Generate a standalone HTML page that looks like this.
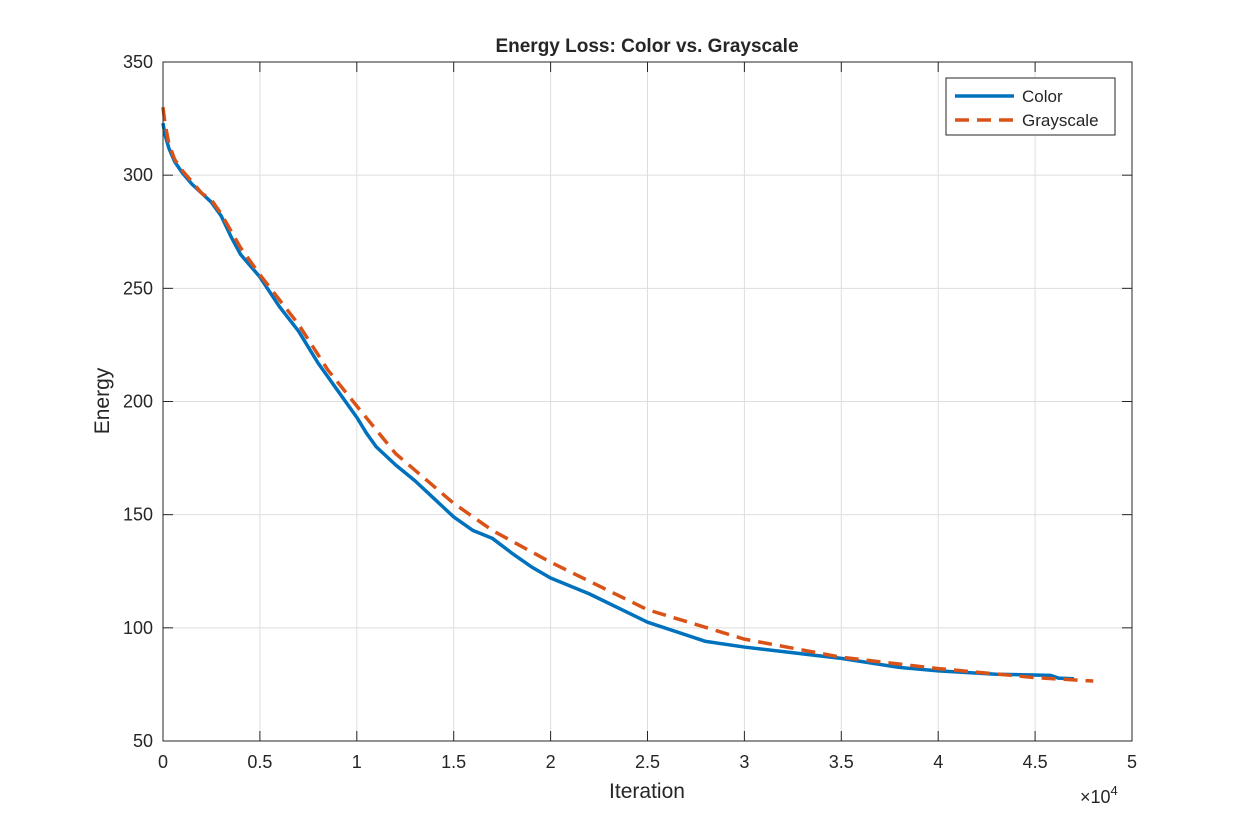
<!DOCTYPE html>
<html><head><meta charset="utf-8"><style>
body{margin:0;background:#fff;}
svg text{font-family:"Liberation Sans",Arial,sans-serif;fill:#262626;}
</style></head><body>
<svg id="chart" width="1250" height="833" xmlns="http://www.w3.org/2000/svg">
<rect x="0" y="0" width="1250" height="833" fill="#fff"/>
<g id="grid"></g>
<g id="plot"></g>
<rect x="163" y="62" width="969" height="679" fill="none" stroke="#262626" stroke-width="1"/>
<g id="ticks"></g>
<text x="647" y="52" text-anchor="middle" font-size="19" font-weight="bold" fill="#000">Energy Loss: Color vs. Grayscale</text>
<text x="647" y="798" text-anchor="middle" font-size="21">Iteration</text>
<text transform="translate(109,401) rotate(-90)" text-anchor="middle" font-size="21">Energy</text>
<text x="1080" y="803" font-size="18">×10<tspan font-size="13" dy="-8">4</tspan></text>
<g>
<rect x="946" y="78" width="169" height="57" fill="#fff" stroke="#262626" stroke-width="1"/>
<line x1="955" y1="96" x2="1014" y2="96" stroke="#0072BD" stroke-width="3.5"/>
<text x="1022" y="102" font-size="17">Color</text>
<line x1="955" y1="120" x2="1014" y2="120" stroke="#D95319" stroke-width="3.5" stroke-dasharray="14,8"/>
<text x="1022" y="126" font-size="17">Grayscale</text>
</g>
</svg>
<script>
const xTicks=[0,0.5,1,1.5,2,2.5,3,3.5,4,4.5,5];
const xTickLabels=["0","0.5","1","1.5","2","2.5","3","3.5","4","4.5","5"];
const yTicks=[50,100,150,200,250,300,350];
const colorX=[0,0.01,0.03,0.06,0.1,0.15,0.2,0.25,0.3,0.35,0.4,0.5,0.6,0.7,0.75,0.8,0.9,1.0,1.05,1.1,1.2,1.3,1.4,1.5,1.6,1.7,1.8,1.9,2.0,2.2,2.5,2.8,3.0,3.3,3.5,3.8,4.0,4.3,4.58,4.62,4.7];
const colorY=[323,318,312,306,301,296,292,288,282,273,265,255,242,231,224,217,205,193,186,180,172,165,157,149,143,139.5,133,127,122,115,102.5,94,91.5,88.5,86.5,82.5,81,79.5,79,77.8,77.5];
const grayX=[0,0.01,0.03,0.06,0.1,0.15,0.2,0.25,0.3,0.4,0.5,0.7,0.85,1.0,1.2,1.5,1.7,2.0,2.5,3.0,3.5,4.0,4.5,4.8];
const grayY=[330,323,314,307,302,297,292,289,283,268,256,234,214,198,177,155,143,129,108,95,87,82,78,76.5];
const sx=v=>163+v/5*969;
const sy=v=>741-(v-50)/300*679;
const NS="http://www.w3.org/2000/svg";
const grid=document.getElementById('grid'),ticks=document.getElementById('ticks'),plot=document.getElementById('plot');
function mk(tag,attrs,parent){const e=document.createElementNS(NS,tag);for(const k in attrs)e.setAttribute(k,attrs[k]);parent.appendChild(e);return e;}
xTicks.forEach((t,i)=>{const x=sx(t);
 const g=mk('line',{x1:x,y1:62,x2:x,y2:741,stroke:'#dedede','stroke-width':1},grid);
 
 
 const a=mk('line',{x1:x,y1:741,x2:x,y2:731,stroke:'#262626'},ticks);
 
 
 const b=mk('line',{x1:x,y1:62,x2:x,y2:72,stroke:'#262626'},ticks);
 
 
 const l=mk('text',{x:x,y:768,'text-anchor':'middle','font-size':18},ticks);l.textContent=xTickLabels[i];
 
 
});
yTicks.forEach(t=>{const y=sy(t);
 const g=mk('line',{x1:163,y1:y,x2:1132,y2:y,stroke:'#dedede','stroke-width':1},grid);
 
 
 const a=mk('line',{x1:163,y1:y,x2:173,y2:y,stroke:'#262626'},ticks);
 
 
 const b=mk('line',{x1:1132,y1:y,x2:1122,y2:y,stroke:'#262626'},ticks);
 
 
 const l=mk('text',{x:153,y:y+6,'text-anchor':'end','font-size':18},ticks);l.textContent=t;
 
 
});
const c=mk('polyline',{points:colorX.map((x,i)=>sx(x)+','+sy(colorY[i])).join(' '),fill:'none',stroke:'#0072BD','stroke-width':3.5,'stroke-linejoin':'round'},plot);


const g2=mk('polyline',{points:grayX.map((x,i)=>sx(x)+','+sy(grayY[i])).join(' '),fill:'none',stroke:'#D95319','stroke-width':3.5,'stroke-dasharray':'14,8','stroke-linejoin':'round'},plot);


</script>
</body></html>
